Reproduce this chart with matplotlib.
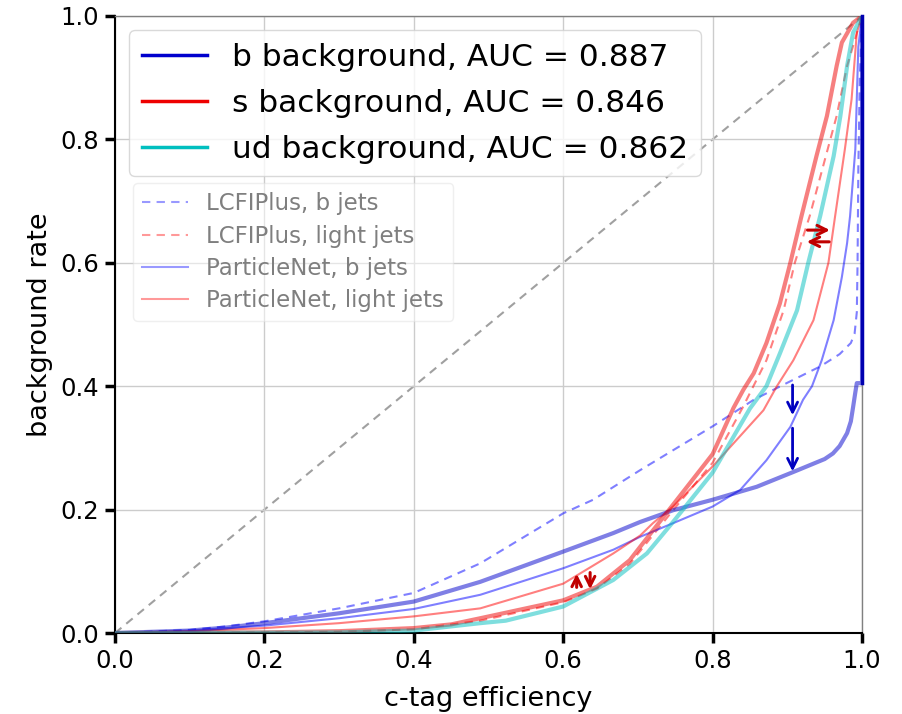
import matplotlib
matplotlib.use("Agg")
import matplotlib.pyplot as plt
from matplotlib.lines import Line2D

# ---- data ----
b_bkg_x = [0, 0.1, 0.15, 0.2, 0.3, 0.4, 0.489, 0.6, 0.667, 0.703, 0.747, 0.8, 0.859, 0.908, 0.93, 0.95, 0.961, 0.97, 0.98, 0.985, 0.988, 0.991, 0.993, 1.0, 1.0]
b_bkg_y = [0, 0.004, 0.009, 0.016, 0.032, 0.051, 0.083, 0.132, 0.162, 0.18, 0.199, 0.216, 0.237, 0.261, 0.272, 0.282, 0.291, 0.303, 0.324, 0.343, 0.366, 0.39, 0.405, 0.405, 1.0]

s_bkg_x = [0, 0.2, 0.3, 0.4, 0.45, 0.489, 0.6, 0.645, 0.689, 0.738, 0.8, 0.828, 0.841, 0.855, 0.872, 0.89, 0.904, 0.919, 0.939, 0.953, 0.966, 0.973, 0.988, 1.0]
s_bkg_y = [0, 0.001, 0.003, 0.008, 0.014, 0.024, 0.053, 0.075, 0.118, 0.194, 0.29, 0.365, 0.394, 0.421, 0.47, 0.534, 0.6, 0.676, 0.773, 0.838, 0.919, 0.957, 0.989, 1.0]

ud_bkg_x = [0, 0.2, 0.3, 0.4, 0.489, 0.523, 0.6, 0.667, 0.712, 0.747, 0.8, 0.85, 0.872, 0.89, 0.913, 0.928, 0.944, 0.962, 0.971, 0.98, 0.988, 1.0]
ud_bkg_y = [0, 0.0005, 0.001, 0.004, 0.016, 0.02, 0.043, 0.086, 0.129, 0.18, 0.26, 0.364, 0.4, 0.453, 0.523, 0.6, 0.676, 0.773, 0.838, 0.919, 0.973, 1.0]

lcfi_b_x = [0, 0.1, 0.15, 0.2, 0.3, 0.4, 0.489, 0.6, 0.64, 0.703, 0.8, 0.855, 0.899, 0.944, 0.97, 0.985, 0.99, 0.993, 0.994, 0.995, 0.997, 1.0]
lcfi_b_y = [0, 0.005, 0.011, 0.019, 0.04, 0.065, 0.113, 0.194, 0.216, 0.264, 0.335, 0.378, 0.405, 0.432, 0.452, 0.47, 0.485, 0.52, 0.6, 0.75, 0.9, 1.0]

lcfi_light_x = [0, 0.2, 0.3, 0.4, 0.489, 0.6, 0.645, 0.689, 0.747, 0.8, 0.84, 0.872, 0.895, 0.91, 0.93, 0.948, 0.966, 0.98, 0.995, 1.0]
lcfi_light_y = [0, 0.001, 0.002, 0.006, 0.02, 0.05, 0.072, 0.112, 0.199, 0.276, 0.365, 0.442, 0.523, 0.6, 0.676, 0.757, 0.838, 0.919, 0.98, 1.0]

pnet_b_x = [0, 0.1, 0.2, 0.3, 0.4, 0.489, 0.6, 0.667, 0.703, 0.747, 0.8, 0.837, 0.872, 0.904, 0.921, 0.933, 0.946, 0.962, 0.973, 0.98, 0.984, 0.991, 0.995, 1.0]
pnet_b_y = [0, 0.004, 0.012, 0.024, 0.039, 0.062, 0.105, 0.135, 0.156, 0.178, 0.205, 0.232, 0.28, 0.334, 0.378, 0.4, 0.442, 0.507, 0.577, 0.632, 0.676, 0.784, 0.95, 1.0]

pnet_light_x = [0, 0.1, 0.2, 0.3, 0.4, 0.489, 0.6, 0.667, 0.703, 0.72, 0.747, 0.8, 0.868, 0.886, 0.908, 0.935, 0.955, 0.964, 0.977, 0.986, 0.993, 1.0]
pnet_light_y = [0, 0.003, 0.008, 0.016, 0.027, 0.04, 0.08, 0.129, 0.158, 0.178, 0.205, 0.27, 0.361, 0.4, 0.442, 0.507, 0.6, 0.676, 0.784, 0.865, 0.973, 1.0]

main_labels = ["b background, AUC = 0.887", "s background, AUC = 0.846", "ud background, AUC = 0.862"]
ref_labels = ["LCFIPlus, b jets", "LCFIPlus, light jets", "ParticleNet, b jets", "ParticleNet, light jets"]
ticks = [0.0, 0.2, 0.4, 0.6, 0.8, 1.0]

C_B = "#0000cd"
C_S = "#ee0000"
C_UD = "#00bfbf"

fig = plt.figure(figsize=(9.02, 7.14), dpi=100)
ax = fig.add_axes([0.1275, 0.1134, 0.8282, 0.8642])

ax.grid(True, color="#cccccc", lw=1.0, zorder=0)
ax.plot([0, 1], [0, 1], ls=(0, (4, 3)), color="#a0a0a0", lw=1.5, zorder=1)

l_lb, = ax.plot(lcfi_b_x, lcfi_b_y, color="blue", alpha=0.5, lw=1.5, ls=(0, (4, 3)), zorder=2)
l_ll, = ax.plot(lcfi_light_x, lcfi_light_y, color="red", alpha=0.5, lw=1.5, ls=(0, (4, 3)), zorder=2)
l_pb, = ax.plot(pnet_b_x, pnet_b_y, color="blue", alpha=0.5, lw=1.5, zorder=2)
l_pl, = ax.plot(pnet_light_x, pnet_light_y, color="red", alpha=0.5, lw=1.5, zorder=2)

ax.plot(b_bkg_x, b_bkg_y, color=C_B, alpha=0.5, lw=3, zorder=3)
ax.plot(s_bkg_x, s_bkg_y, color=C_S, alpha=0.5, lw=3, zorder=3)
ax.plot(ud_bkg_x, ud_bkg_y, color=C_UD, alpha=0.5, lw=3, zorder=3)
ax.plot([1.0, 1.0], [0.405, 1.0], color="#0000b0", lw=2.5, zorder=4, clip_on=False)

# arrows
ap_b = dict(arrowstyle="->", color="#0000c0", lw=2, mutation_scale=18, shrinkA=0, shrinkB=0)
ax.annotate("", xy=(0.907, 0.353), xytext=(0.907, 0.402), arrowprops=ap_b, zorder=5)
ax.annotate("", xy=(0.907, 0.262), xytext=(0.907, 0.332), arrowprops=ap_b, zorder=5)
ap_r = dict(arrowstyle="->", color="#c00000", lw=2.2, mutation_scale=17, shrinkA=0, shrinkB=0)
ax.annotate("", xy=(0.957, 0.653), xytext=(0.927, 0.653), arrowprops=ap_r, zorder=5)
ax.annotate("", xy=(0.926, 0.634), xytext=(0.956, 0.634), arrowprops=ap_r, zorder=5)
ax.annotate("", xy=(0.618, 0.096), xytext=(0.618, 0.074), arrowprops=ap_r, zorder=5)
ax.annotate("", xy=(0.636, 0.071), xytext=(0.636, 0.098), arrowprops=ap_r, zorder=5)

ax.set_xlim(0, 1)
ax.set_ylim(0, 1)
ax.set_xticks(ticks)
ax.set_yticks(ticks)
ax.set_xticklabels([f"{t:.1f}" for t in ticks])
ax.set_yticklabels([f"{t:.1f}" for t in ticks])
ax.tick_params(axis="both", which="major", length=7.5, width=2.5, labelsize=17.5, direction="out", pad=4)
ax.set_xlabel("c-tag efficiency", fontsize=19.5, labelpad=9)
ax.set_ylabel("background rate", fontsize=19.5, labelpad=5)
for s in ["left", "bottom"]:
    ax.spines[s].set_color("black")
    ax.spines[s].set_linewidth(1.5)
for s in ["top", "right"]:
    ax.spines[s].set_color("#808080")
    ax.spines[s].set_linewidth(1.0)

handles1 = [Line2D([], [], color=C_B, lw=2.5), Line2D([], [], color=C_S, lw=2.5), Line2D([], [], color=C_UD, lw=2.5)]
leg1 = ax.legend(handles1, main_labels, loc="upper left", fontsize=22.5, handlelength=2.1,
                 framealpha=0.8, edgecolor="#d0d0d0", labelspacing=0.55, borderaxespad=0.45)
ax.add_artist(leg1)

leg2 = ax.legend([l_lb, l_ll, l_pb, l_pl], ref_labels, loc="upper left", bbox_to_anchor=(0.024, 0.729),
                 borderaxespad=0, fontsize=16.5, handlelength=2.0, handletextpad=0.8, labelspacing=0.4,
                 framealpha=0.5, edgecolor="#e0e0e0")
for t in leg2.get_texts():
    t.set_color("#7f7f7f")
for h in leg2.legend_handles:
    h.set_alpha(0.4)

fig.savefig("out.png", dpi=100)
